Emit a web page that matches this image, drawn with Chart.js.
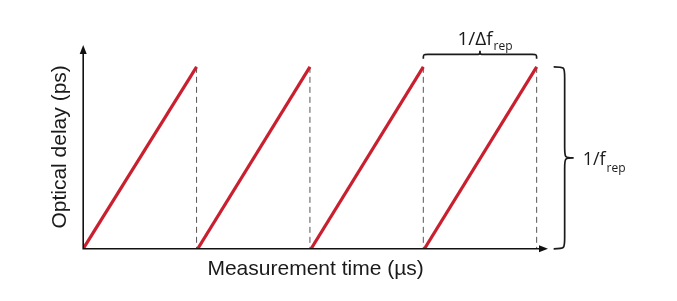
<!DOCTYPE html>
<html>
<head>
<meta charset="utf-8">
<script src="https://cdn.jsdelivr.net/npm/chart.js@4"></script>
<style>
  html, body { margin: 0; padding: 0; background: #fff; }
  #wrap { width: 677px; height: 301px; }
</style>
</head>
<body>
<div id="wrap"><canvas id="grafico" width="677" height="301"></canvas></div>
<script>
// sawtooth: each ramp goes from delay 0 up to delay 1 over one period
const rampStart = [0, 1.01, 2.01, 3.01];
const rampEnd   = [1, 2, 3, 4];
const delayLow  = 0;
const delayHigh = 1;
const dashMarks = [1, 2, 3, 4];

const xTitle = 'Measurement time (µs)';
const yTitle = 'Optical delay (ps)';
const periodLabel = ['1/Δf', 'rep'];
const repLabel = ['1/f', 'rep'];

const RED = '#c9202f';

const datasets = [];
rampStart.forEach((s, i) => {
    datasets.push({
        data: [{ x: s, y: delayLow }, { x: rampEnd[i], y: delayHigh }],
        borderColor: RED,
        borderWidth: 3.2,
        pointRadius: 0,
        showLine: true,
        borderCapStyle: 'butt'
    });
});
dashMarks.forEach(m => {
    datasets.push({
        data: [{ x: m, y: delayHigh }, { x: m, y: delayLow }],
        borderColor: '#555',
        borderWidth: 1,
        borderDash: [6, 4],
        pointRadius: 0,
        showLine: true
    });
});

function brace(ctx, x1, y1, x2, y2, d) {
    // curly brace from (x1,y1) to (x2,y2), bulging d px to the left of the direction
    const len = Math.hypot(x2 - x1, y2 - y1);
    const ux = (x2 - x1) / len, uy = (y2 - y1) / len;
    const nx = uy, ny = -ux;
    const p = (t, n) => [x1 + ux * t + nx * n, y1 + uy * t + ny * n];
    const h = len / 2, q = d * 0.55;
    ctx.beginPath();
    ctx.moveTo(...p(0, 0));
    ctx.bezierCurveTo(...p(0, q), ...p(0, q), ...p(q, q));
    ctx.lineTo(...p(h - q, q));
    ctx.bezierCurveTo(...p(h, q), ...p(h, q), ...p(h, d));
    ctx.bezierCurveTo(...p(h, q), ...p(h, q), ...p(h + q, q));
    ctx.lineTo(...p(len - q, q));
    ctx.bezierCurveTo(...p(len, q), ...p(len, q), ...p(len, 0));
    ctx.stroke();
}

const extras = {
    id: 'extras',
    afterDatasetsDraw(chart) {
        const ctx = chart.ctx;
        const xs = chart.scales.x, ys = chart.scales.y;
        const a = chart.chartArea;
        ctx.save();
        // axes with arrows
        ctx.strokeStyle = '#111';
        ctx.fillStyle = '#111';
        ctx.lineWidth = 1.6;
        ctx.beginPath();
        ctx.moveTo(a.left, a.top + 6);
        ctx.lineTo(a.left, a.bottom);
        ctx.lineTo(a.right - 6, a.bottom);
        ctx.stroke();
        ctx.beginPath();
        ctx.moveTo(a.left, a.top);
        ctx.lineTo(a.left - 3.5, a.top + 9);
        ctx.lineTo(a.left + 3.5, a.top + 9);
        ctx.closePath();
        ctx.fill();
        ctx.beginPath();
        ctx.moveTo(a.right, a.bottom);
        ctx.lineTo(a.right - 9, a.bottom - 3.5);
        ctx.lineTo(a.right - 9, a.bottom + 3.5);
        ctx.closePath();
        ctx.fill();

        // braces
        ctx.lineWidth = 1.7;
        ctx.strokeStyle = '#1a1a1a';
        const xa = xs.getPixelForValue(rampEnd[2]);
        const xb = xs.getPixelForValue(rampEnd[3]);
        const yTop = ys.getPixelForValue(delayHigh);
        brace(ctx, xa, yTop - 8, xb, yTop - 8, 8);
        const yb = ys.getPixelForValue(delayLow);
        brace(ctx, xb + 17, yTop, xb + 17, yb, 20);

        // brace labels
        ctx.fillStyle = '#1a1a1a';
        ctx.textBaseline = 'alphabetic';
        ctx.textAlign = 'left';
        ctx.font = '19px "Open Sans"';
        const w1 = ctx.measureText(periodLabel[0]).width;
        ctx.font = '12px "Open Sans"';
        const w2 = ctx.measureText(periodLabel[1]).width;
        const cx = (xa + xb) / 2 + 5;
        let tx = cx - (w1 + w2 + 1) / 2;
        ctx.font = '19px "Open Sans"';
        ctx.fillText(periodLabel[0], tx, 45);
        ctx.font = '12px "Open Sans"';
        ctx.fillText(periodLabel[1], tx + w1 + 1, 50);

        const my = (yTop + yb) / 2;
        ctx.font = '18px "Open Sans"';
        ctx.fillText(repLabel[0], xb + 46, my + 7);
        const w3 = ctx.measureText(repLabel[0]).width;
        ctx.font = '12px "Open Sans"';
        ctx.fillText(repLabel[1], xb + 46 + w3 + 1, my + 14);
        ctx.restore();
    }
};

new Chart(document.getElementById('grafico'), {
    type: 'scatter',
    data: { datasets: datasets },
    plugins: [extras],
    options: {
        responsive: false,
        animation: false,
        layout: { padding: { left: 48, right: 129, top: 45, bottom: 15 } },
        plugins: { legend: { display: false }, tooltip: { enabled: false } },
        scales: {
            x: {
                min: 0, max: 4.1,
                grid: { display: false },
                border: { display: false },
                ticks: { display: false },
                title: {
                    display: true, text: xTitle, color: '#1a1a1a',
                    font: { family: 'Liberation Sans', size: 21 },
                    padding: { top: 0, bottom: 4 }
                }
            },
            y: {
                min: 0, max: 1.12,
                grid: { display: false },
                border: { display: false },
                ticks: { display: false },
                title: {
                    display: true, text: yTitle, color: '#1a1a1a',
                    font: { family: 'Liberation Sans', size: 21 },
                    padding: { top: 0, bottom: 2 }
                }
            }
        }
    }
});
</script>
</body>
</html>
